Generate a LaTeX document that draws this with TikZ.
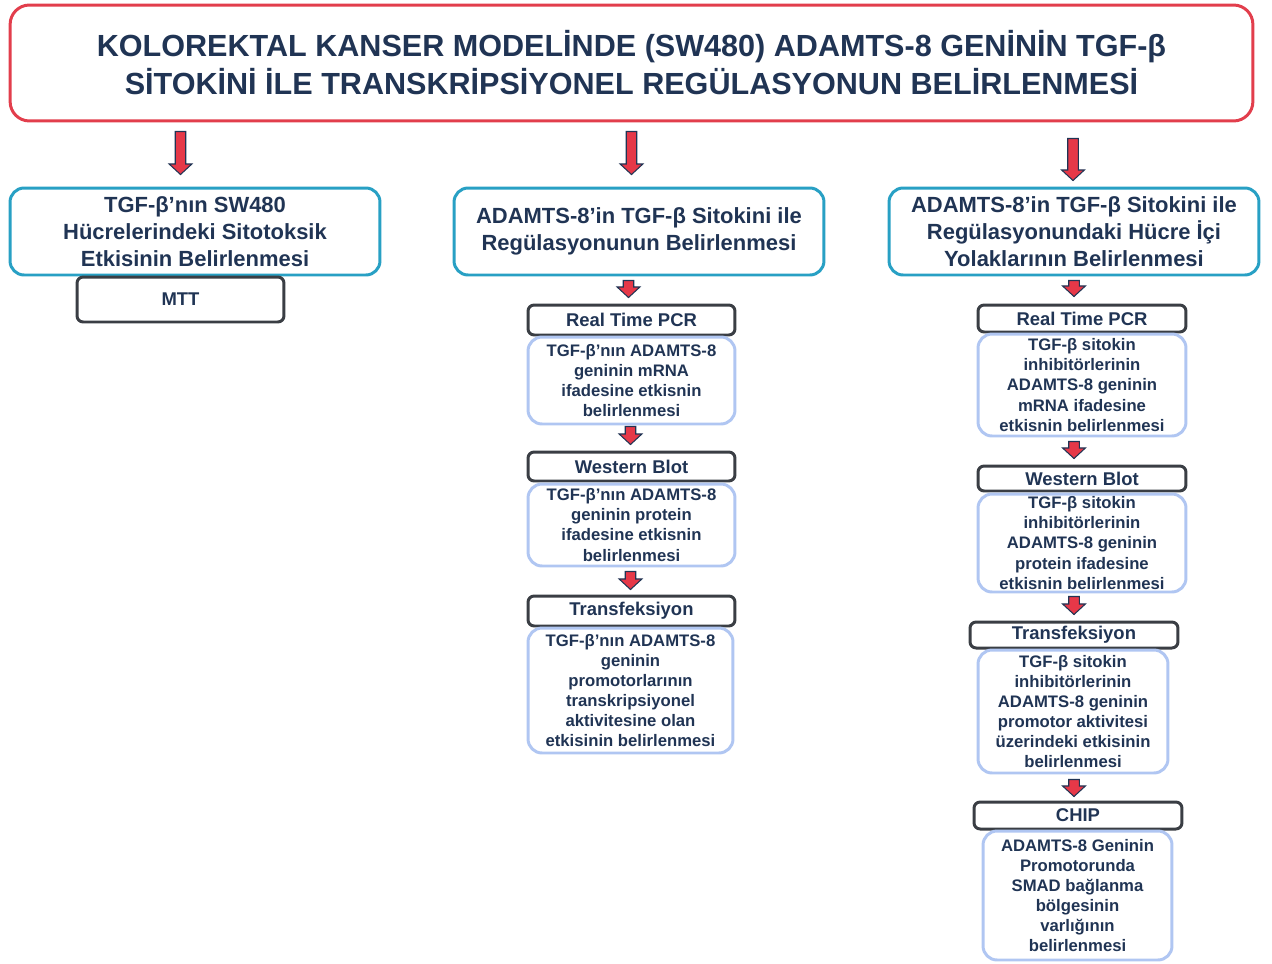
\documentclass[tikz,border=0pt]{standalone}
\usepackage{fontspec}
\setmainfont{Liberation Sans}
\usepackage{tikz}
\usetikzlibrary{calc}
\definecolor{navy}{RGB}{32,52,84}
\definecolor{titlered}{RGB}{226,62,76}
\definecolor{boxcyan}{RGB}{40,160,196}
\definecolor{headgray}{RGB}{58,62,68}
\definecolor{paleblue}{RGB}{176,198,242}
\definecolor{arrowred}{RGB}{230,56,72}
\tikzset{
  titlebox/.style={draw=titlered, line width=1.7pt, rounded corners=11pt, text=navy, align=center,
    font=\fontsize{17.4}{21.6}\selectfont\bfseries},
  stagebox/.style={draw=boxcyan, line width=1.7pt, rounded corners=8pt, text=navy, align=center,
    minimum width=7.4cm, minimum height=1.74cm, font=\fontsize{12.5}{15.4}\selectfont\bfseries},
  methodbox/.style={draw=headgray, line width=1.7pt, rounded corners=3.5pt, text=navy, align=center,
    minimum width=4.14cm, inner sep=0pt, font=\fontsize{10.5}{12}\selectfont\bfseries},
  detailbox/.style={draw=paleblue, line width=1.7pt, rounded corners=8pt, text=navy, align=center,
    minimum width=4.14cm, inner sep=0pt, font=\fontsize{9.5}{11.4}\selectfont\bfseries},
  redarrow/.style={fill=arrowred, draw=navy, line width=0.6pt, line join=miter}
}
% block arrow from #1 down to #2 (x taken from #1)
\newcommand{\blockarrow}[2]{%
  \draw[redarrow] let \p1=#1, \p2=#2 in
    (\x1-3pt,\y1) -- (\x1+3pt,\y1) -- (\x1+3pt,\y2+6pt) -- (\x1+6.5pt,\y2+6pt)
    -- (\x1,\y2) -- (\x1-6.5pt,\y2+6pt) -- (\x1-3pt,\y2+6pt) -- cycle;}

\begin{document}
\begin{tikzpicture}[x=0.02cm,y=-0.02cm]
\useasboundingbox (0,0) rectangle (1272,964);

% title
\node[titlebox, minimum width=24.86cm, minimum height=2.32cm] (title) at (631.5,63)
  {KOLOREKTAL KANSER MODELİNDE (SW480) ADAMTS-8 GENİNİN TGF-β\\SİTOKİNİ İLE TRANSKRİPSİYONEL REGÜLASYONUN BELİRLENMESİ};

% three stages
\node[stagebox] (left) at (195,231.5) {TGF-β’nın SW480\\Hücrelerindeki Sitotoksik\\Etkisinin Belirlenmesi};
\node[stagebox] (mid) at (639,231.5) {ADAMTS-8’in TGF-β Sitokini ile\\Regülasyonunun Belirlenmesi};
\node[stagebox] (right) at (1074,231.5) {ADAMTS-8’in TGF-β Sitokini ile\\Regülasyonundaki Hücre İçi\\Yolaklarının Belirlenmesi};

% left column
\node[methodbox, minimum height=0.9cm] (mtt) at (180.5,299.5) {MTT};

% middle column
\node[methodbox, minimum height=0.6cm] (pcrA) at (631.5,320) {Real Time PCR};
\node[detailbox, minimum height=1.74cm] (pcrAd) at (631.5,380.5)
  {TGF-β’nın ADAMTS-8\\geninin mRNA\\ifadesine etkisnin\\belirlenmesi};
\node[methodbox, minimum height=0.58cm] (wbA) at (631.5,466.5) {Western Blot};
\node[detailbox, minimum height=1.64cm] (wbAd) at (631.5,525)
  {TGF-β’nın ADAMTS-8\\geninin protein\\ifadesine etkisnin\\belirlenmesi};
\node[methodbox, minimum height=0.6cm] (trA) at (631.5,611) {Transfeksiyon};
\node[detailbox, minimum width=4.1cm, minimum height=2.5cm] (trAd) at (630.5,690.5)
  {TGF-β’nın ADAMTS-8\\geninin\\promotorlarının\\transkripsiyonel\\aktivitesine olan\\etkisinin belirlenmesi};

% right column
\node[methodbox, minimum width=4.16cm, minimum height=0.54cm] (pcrB) at (1082,318.5) {Real Time PCR};
\node[detailbox, minimum width=4.16cm, minimum height=2.04cm] (pcrBd) at (1082,385)
  {TGF-β sitokin\\inhibitörlerinin\\ADAMTS-8 geninin\\mRNA ifadesine\\etkisnin belirlenmesi};
\node[methodbox, minimum width=4.16cm, minimum height=0.5cm] (wbB) at (1082,478.5) {Western Blot};
\node[detailbox, minimum width=4.16cm, minimum height=1.96cm] (wbBd) at (1082,543)
  {TGF-β sitokin\\inhibitörlerinin\\ADAMTS-8 geninin\\protein ifadesine\\etkisnin belirlenmesi};
\node[methodbox, minimum width=4.16cm, minimum height=0.52cm] (trB) at (1074,635) {Transfeksiyon};
\node[detailbox, minimum width=3.8cm, minimum height=2.46cm] (trBd) at (1073,711.5)
  {TGF-β sitokin\\inhibitörlerinin\\ADAMTS-8 geninin\\promotor aktivitesi\\üzerindeki etkisinin\\belirlenmesi};
\node[methodbox, minimum width=4.16cm, minimum height=0.54cm] (chip) at (1078,815.5) {CHIP};
\node[detailbox, minimum width=3.78cm, minimum height=2.58cm] (chipd) at (1077.5,895.5)
  {ADAMTS-8 Geninin\\Promotorunda\\SMAD bağlanma\\bölgesinin\\varlığının\\belirlenmesi};

% arrows
\blockarrow{($(title.south -| mtt.north)+(0,9)$)}{($(left.north)+(0,-12)$)}
\blockarrow{($(title.south -| pcrA.north)+(0,9)$)}{($(mid.north)+(0,-12)$)}
\blockarrow{($(title.south -| trB.north)+(-1,16)$)}{($(right.north)+(0,-6)$)}
\blockarrow{($(mid.south -| pcrA.north)+(-3,4)$)}{($(pcrA.north)+(0,-6)$)}
\blockarrow{($(pcrAd.south)+(-1,1)$)}{($(wbA.north)+(0,-6)$)}
\blockarrow{($(wbAd.south)+(-1,4)$)}{($(trA.north)+(0,-5)$)}
\blockarrow{($(right.south -| trB.north)+(0,4)$)}{($(pcrB.north)+(0,-7)$)}
\blockarrow{($(pcrBd.south -| trB.north)+(0,4)$)}{($(wbB.north)+(0,-6)$)}
\blockarrow{($(wbBd.south -| trB.north)+(0,3)$)}{($(trB.north)+(0,-6)$)}
\blockarrow{($(trBd.south -| trB.north)+(0,5)$)}{($(chip.north)+(0,-4)$)}
\end{tikzpicture}
\end{document}
